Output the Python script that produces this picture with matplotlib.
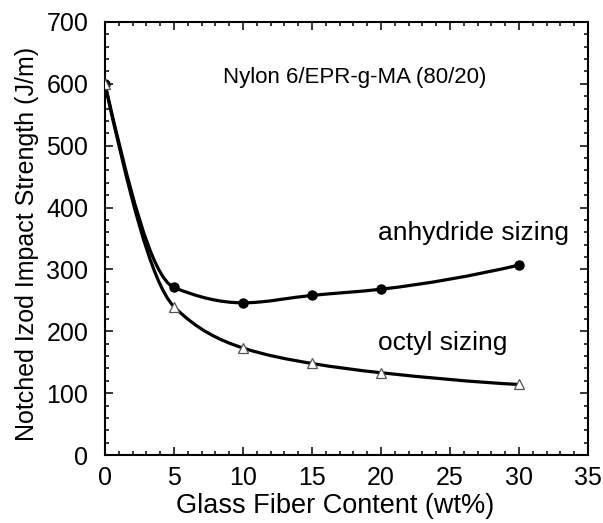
import numpy as np
import matplotlib
matplotlib.use("Agg")
import matplotlib.pyplot as plt
from matplotlib.path import Path
from matplotlib.patches import PathPatch
from matplotlib.ticker import MultipleLocator

plt.rcParams['font.family'] = ['Liberation Sans', 'DejaVu Sans']

# Data
fiber = [0, 5, 10, 15, 20, 30]
anhydride = [600, 271, 246, 258, 268, 307]
octyl = [600, 240, 173, 148, 133, 114]


def pchip_slopes(x, y):
    x = np.asarray(x, float); y = np.asarray(y, float)
    h = np.diff(x); d = np.diff(y) / h
    m = np.zeros_like(y)
    for k in range(1, len(x) - 1):
        if d[k - 1] * d[k] <= 0:
            m[k] = 0
        else:
            w1 = 2 * h[k] + h[k - 1]; w2 = h[k] + 2 * h[k - 1]
            m[k] = (w1 + w2) / (w1 / d[k - 1] + w2 / d[k])
    m[0] = ((2 * h[0] + h[1]) * d[0] - h[0] * d[1]) / (h[0] + h[1])
    m[-1] = ((2 * h[-1] + h[-2]) * d[-1] - h[-1] * d[-2]) / (h[-1] + h[-2])
    return m


def smooth_path(x, y):
    m = pchip_slopes(x, y)
    verts = [(x[0], y[0])]
    codes = [Path.MOVETO]
    for k in range(len(x) - 1):
        h = x[k + 1] - x[k]
        verts += [(x[k] + h / 3, y[k] + m[k] * h / 3),
                  (x[k + 1] - h / 3, y[k + 1] - m[k + 1] * h / 3),
                  (x[k + 1], y[k + 1])]
        codes += [Path.CURVE4] * 3
    return Path(verts, codes)


fig = plt.figure(figsize=(6.03, 5.23), dpi=100)
ax = fig.add_axes([0.174, 0.130, 0.801, 0.828])

for ys in (anhydride, octyl):
    ax.add_patch(PathPatch(smooth_path(fiber, ys), facecolor='none',
                           edgecolor='black', lw=2.3, zorder=2))

ax.plot(fiber, anhydride, 'o', ms=6.5, color='black', zorder=3, linestyle='none')
ax.plot(fiber, octyl, '^', ms=7, mfc='white', mec='#555555', mew=0.9,
        zorder=4, linestyle='none')

ax.set_xlim(0, 35)
ax.set_ylim(0, 700)
ax.xaxis.set_major_locator(MultipleLocator(5))
ax.xaxis.set_minor_locator(MultipleLocator(1))
ax.yaxis.set_major_locator(MultipleLocator(100))
ax.yaxis.set_minor_locator(MultipleLocator(20))
ax.tick_params(which='both', direction='in', top=True, right=True,
               labelsize=18, width=1.1)
ax.tick_params(axis='x', pad=8)
ax.tick_params(axis='y', pad=12)
ax.tick_params(which='major', length=6)
ax.tick_params(which='minor', length=3)
for s in ax.spines.values():
    s.set_linewidth(1.5)

fig.text(335 / 603, 1 - 506 / 523, 'Glass Fiber Content (wt%)', fontsize=19.5,
         ha='center', va='center')
fig.text(27 / 603, 1 - 244 / 523, 'Notched Izod Impact Strength (J/m)',
         fontsize=18, rotation=90, ha='center', va='center')

ax.text(18.1, 611, 'Nylon 6/EPR-g-MA (80/20)', fontsize=16,
        ha='center', va='center')
ax.text(19.8, 359, 'anhydride sizing', fontsize=19, ha='left', va='center')
ax.text(19.8, 181, 'octyl sizing', fontsize=19, ha='left', va='center')

fig.savefig('out.png', dpi=100)
